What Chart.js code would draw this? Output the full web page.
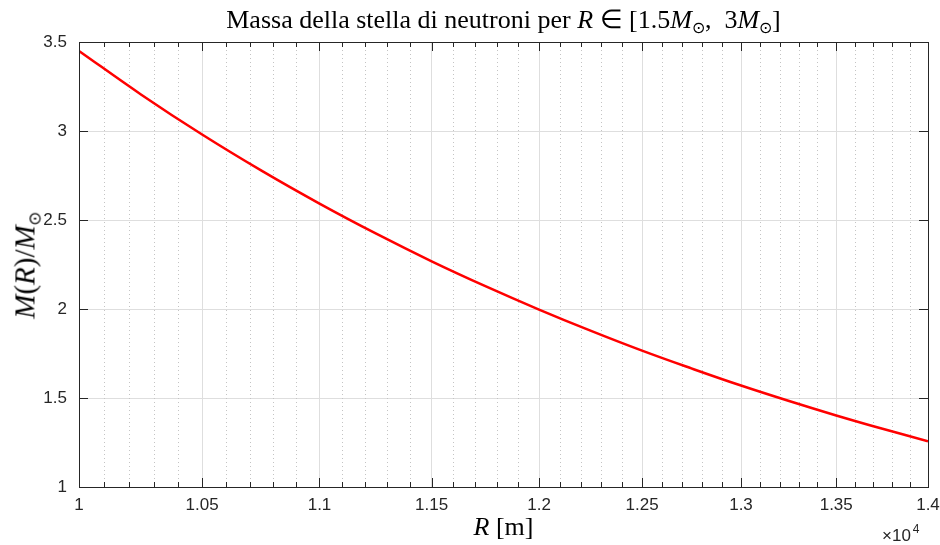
<!DOCTYPE html>
<html>
<head>
<meta charset="utf-8">
<script src="https://cdn.jsdelivr.net/npm/chart.js@4/dist/chart.umd.min.js"></script>
<style>
  body { margin: 0; background: #fff; }
  #wrap { position: relative; width: 940px; height: 545px; }
  .lbl { position: absolute; font-family: "Liberation Serif", serif; color: #000; white-space: nowrap; }
  .lbl i { font-style: italic; }
  .lbl sub { font-size: 0.6em; vertical-align: -0.35em; }
  #title { left: 0; width: 1007px; top: 4px; text-align: center; font-size: 26px; }
  #xlabel { left: 0; width: 1007px; top: 512px; text-align: center; font-size: 26px; }
  #ylabel { left: 27px; top: 265px; font-size: 29px; transform: translate(-50%, -50%) rotate(-90deg); }
  #expo { position: absolute; left: 882px; top: 522px; font-family: "Liberation Sans", sans-serif; font-size: 17px; color: #262626; }
  #expo sup { font-size: 12px; vertical-align: 8px; margin-left: 2px; }
</style>
</head>
<body>
<div id="wrap">
  <canvas id="chart" width="940" height="545"></canvas>
  <div class="lbl" id="title">Massa della stella di neutroni per <i>R</i> ∈ [1.5<i>M</i><sub>⊙</sub>,&nbsp; 3<i>M</i><sub>⊙</sub>]</div>
  <div class="lbl" id="xlabel"><i>R</i> [m]</div>
  <div class="lbl" id="ylabel"><i>M</i>(<i>R</i>)/<i>M</i><sub>⊙</sub></div>
  <div id="expo">×10<sup>4</sup></div>
</div>
<script>
// radius [m] and mass in solar masses
const radius = [10000, 10250, 10500, 10750, 11000, 11250, 11500, 11750, 12000,
                12250, 12500, 12750, 13000, 13250, 13500, 13750, 14000];
const mass = [3.450, 3.204, 2.980, 2.777, 2.592, 2.423, 2.268, 2.127, 1.997,
              1.877, 1.766, 1.665, 1.570, 1.483, 1.402, 1.327, 1.257];
const xTicks = [10000, 10500, 11000, 11500, 12000, 12500, 13000, 13500, 14000];
const yTicks = [1, 1.5, 2, 2.5, 3, 3.5];

let xMinor = [];
for (let v = 10100; v < 14000; v += 100) {
  if (v % 500 !== 0) xMinor.push(v);
}

const axisColor = "#262626";

// minor grid, tick marks and the box like matlab
const boxPlugin = {
  id: "box",
  beforeDatasetsDraw(chart) {
    let ctx = chart.ctx;
    let a = chart.chartArea;
    let xs = chart.scales.x;
    ctx.save();
    ctx.strokeStyle = "#c4c4c4";
    ctx.lineWidth = 1;
    ctx.setLineDash([1, 3]);
    xMinor.forEach((v) => {
      let px = Math.round(xs.getPixelForValue(v)) + 0.5;
      ctx.beginPath();
      ctx.moveTo(px, a.top);
      ctx.lineTo(px, a.bottom);
      ctx.stroke();
    });
    ctx.restore();
  },
  afterDraw(chart) {
    let ctx = chart.ctx;
    let a = chart.chartArea;
    let xs = chart.scales.x;
    let ys = chart.scales.y;
    ctx.save();
    ctx.strokeStyle = axisColor;
    ctx.lineWidth = 1;
    ctx.beginPath();
    xTicks.forEach((v) => {
      let px = Math.round(xs.getPixelForValue(v)) + 0.5;
      ctx.moveTo(px, a.bottom); ctx.lineTo(px, a.bottom - 9);
      ctx.moveTo(px, a.top); ctx.lineTo(px, a.top + 9);
    });
    xMinor.forEach((v) => {
      let px = Math.round(xs.getPixelForValue(v)) + 0.5;
      ctx.moveTo(px, a.bottom); ctx.lineTo(px, a.bottom - 5);
      ctx.moveTo(px, a.top); ctx.lineTo(px, a.top + 5);
    });
    yTicks.forEach((v) => {
      let py = Math.round(ys.getPixelForValue(v)) + 0.5;
      ctx.moveTo(a.left, py); ctx.lineTo(a.left + 9, py);
      ctx.moveTo(a.right, py); ctx.lineTo(a.right - 9, py);
    });
    ctx.stroke();
    ctx.strokeRect(Math.round(a.left) + 0.5, Math.round(a.top) + 0.5,
                   Math.round(a.right - a.left), Math.round(a.bottom - a.top));
    ctx.restore();
  },
};

new Chart(document.getElementById("chart"), {
  type: "line",
  data: {
    datasets: [
      {
        data: radius.map((r, i) => ({ x: r, y: mass[i] })),
        borderColor: "#ff0000",
        borderWidth: 2.5,
        pointRadius: 0,
        tension: 0.4,
        fill: false,
      },
    ],
  },
  options: {
    responsive: false,
    animation: false,
    layout: { padding: { top: 42, right: 12, left: 0, bottom: 0 } },
    plugins: { legend: { display: false }, tooltip: { enabled: false } },
    scales: {
      x: {
        type: "logarithmic",
        min: 10000,
        max: 14000,
        afterBuildTicks: (scale) => {
          scale.ticks = xTicks.map((v) => ({ value: v }));
        },
        afterFit: (scale) => {
          scale.height = 58;
          scale.paddingLeft = 0;
          scale.paddingRight = 0;
        },
        ticks: {
          autoSkip: false,
          maxRotation: 0,
          padding: 8,
          color: axisColor,
          font: { family: "Liberation Sans", size: 17 },
          callback: (v) => String(v / 10000),
        },
        grid: { color: "#dedede", drawTicks: false },
        border: { color: axisColor },
      },
      y: {
        type: "linear",
        min: 1,
        max: 3.5,
        afterBuildTicks: (scale) => {
          scale.ticks = yTicks.map((v) => ({ value: v }));
        },
        afterFit: (scale) => {
          scale.width = 79;
          scale.paddingTop = 0;
          scale.paddingBottom = 0;
        },
        ticks: {
          padding: 12,
          color: axisColor,
          font: { family: "Liberation Sans", size: 17 },
          callback: (v) => String(v),
        },
        grid: { color: "#dedede", drawTicks: false },
        border: { color: axisColor },
      },
    },
  },
  plugins: [boxPlugin],
});
</script>
</body>
</html>
